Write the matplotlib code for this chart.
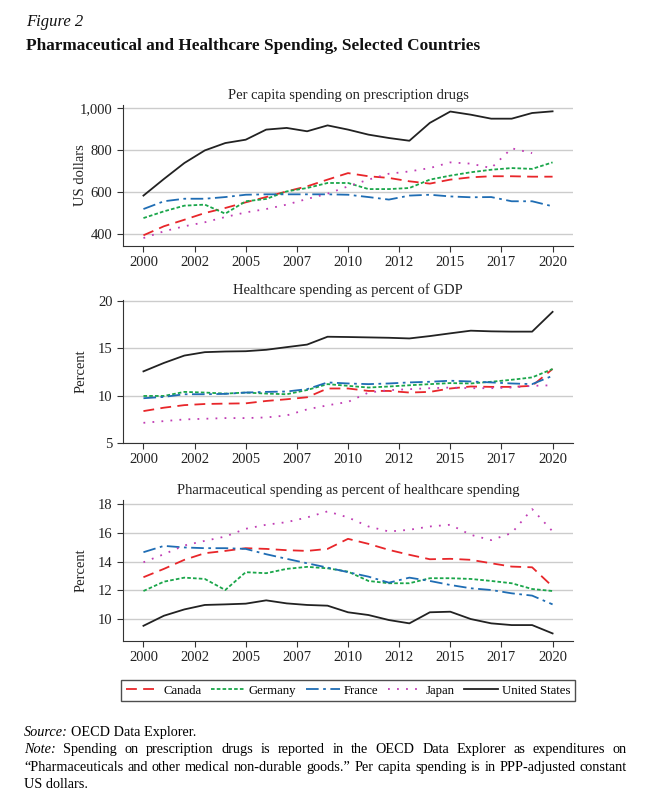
import matplotlib
matplotlib.use("Agg")
import matplotlib.pyplot as plt

years = list(range(2000, 2021))

# Per capita spending on prescription drugs (US dollars)
drugs_canada = [394, 437, 468, 500, 524, 551, 576, 603, 627, 659, 690, 675, 667, 651, 640, 659, 670, 675, 675, 673, 673]
drugs_germany = [476, 508, 535, 540, 497, 556, 567, 603, 619, 643, 643, 614, 614, 619, 659, 678, 694, 706, 714, 710, 741]
drugs_france = [519, 556, 568, 568, 576, 587, 589, 589, 589, 589, 587, 576, 564, 583, 587, 579, 575, 576, 556, 556, 532]
drugs_japan = [381, 413, 437, 456, 481, 503, 519, 540, 567, 592, 627, 659, 687, 698, 714, 741, 735, 714, 808, 785, None]
drugs_us = [583, 662, 738, 798, 833, 849, 897, 905, 889, 917, 897, 873, 857, 844, 929, 983, 968, 949, 949, 976, 984]

# Healthcare spending as percent of GDP
gdp_canada = [8.37, 8.73, 9.0, 9.12, 9.16, 9.19, 9.44, 9.62, 9.83, 10.76, 10.76, 10.5, 10.5, 10.33, 10.4, 10.76, 10.97, 10.93, 10.93, 11.04, 12.82]
gdp_germany = [9.97, 9.97, 10.4, 10.33, 10.22, 10.33, 10.22, 10.15, 10.6, 11.22, 11.04, 10.86, 10.97, 11.1, 11.22, 11.33, 11.29, 11.47, 11.68, 11.93, 12.82]
gdp_france = [9.73, 9.87, 10.15, 10.15, 10.19, 10.33, 10.4, 10.44, 10.69, 11.4, 11.29, 11.22, 11.29, 11.4, 11.47, 11.58, 11.5, 11.4, 11.29, 11.22, 12.1]
gdp_japan = [7.13, 7.31, 7.49, 7.56, 7.63, 7.63, 7.7, 7.91, 8.55, 8.98, 9.34, 10.33, 10.58, 10.69, 10.79, 10.86, 10.79, 10.79, 10.86, 11.04, 11.1]
gdp_us = [12.57, 13.46, 14.24, 14.6, 14.67, 14.7, 14.85, 15.13, 15.4, 16.23, 16.2, 16.16, 16.12, 16.05, 16.3, 16.59, 16.87, 16.8, 16.77, 16.77, 18.86]

# Pharmaceutical spending as percent of healthcare spending
share_canada = [12.91, 13.49, 14.12, 14.58, 14.74, 14.93, 14.88, 14.79, 14.74, 14.88, 15.58, 15.23, 14.81, 14.47, 14.16, 14.19, 14.12, 13.88, 13.65, 13.6, 12.26]
share_germany = [11.95, 12.6, 12.88, 12.79, 12.02, 13.26, 13.19, 13.49, 13.63, 13.53, 13.3, 12.65, 12.49, 12.49, 12.84, 12.84, 12.79, 12.65, 12.49, 12.09, 11.95]
share_france = [14.65, 15.09, 14.98, 14.93, 14.93, 14.88, 14.51, 14.19, 13.88, 13.58, 13.26, 12.95, 12.53, 12.88, 12.65, 12.37, 12.14, 12.02, 11.79, 11.63, 11.02]
share_japan = [13.95, 14.51, 15.12, 15.44, 15.74, 16.28, 16.56, 16.74, 17.07, 17.49, 17.07, 16.44, 16.09, 16.21, 16.44, 16.56, 15.86, 15.49, 15.98, 17.65, 16.1]
share_us = [9.53, 10.23, 10.67, 10.98, 11.02, 11.07, 11.3, 11.09, 10.98, 10.93, 10.47, 10.28, 9.93, 9.7, 10.47, 10.51, 10.0, 9.7, 9.58, 9.58, 9.0]

countries = ["Canada", "Germany", "France", "Japan", "United States"]
tick_pos = [2000, 2002.5, 2005, 2007.5, 2010, 2012.5, 2015, 2017.5, 2020]
tick_labels = ["2000", "2002", "2005", "2007", "2010", "2012", "2015", "2017", "2020"]

styles = {
    "Canada": dict(color="#e8262a", linestyle=(0, (6, 3.5))),
    "Germany": dict(color="#1aa64a", linestyle=(0, (2, 1.2))),
    "France": dict(color="#1f6db4", linestyle=(0, (7, 2.5, 1.5, 2.5))),
    "Japan": dict(color="#c03cb4", linestyle=(0, (1, 4))),
    "United States": dict(color="#222222", linestyle="-"),
}

serif = "Liberation Serif"
plt.rcParams["font.family"] = serif
plt.rcParams["font.size"] = 10

fig = plt.figure(figsize=(6.57, 7.98), dpi=100)

panels = [
    ([0.1872, 0.6917, 0.685, 0.1767], "Per capita spending on prescription drugs", "US dollars",
     [drugs_canada, drugs_germany, drugs_france, drugs_japan, drugs_us],
     (343, 1014), [400, 600, 800, 1000], ["400", "600", "800", "1,000"]),
    ([0.1872, 0.4449, 0.685, 0.179], "Healthcare spending as percent of GDP", "Percent",
     [gdp_canada, gdp_germany, gdp_france, gdp_japan, gdp_us],
     (5, 20.1), [5, 10, 15, 20], ["5", "10", "15", "20"]),
    ([0.1872, 0.1967, 0.685, 0.1767], "Pharmaceutical spending as percent of healthcare spending", "Percent",
     [share_canada, share_germany, share_france, share_japan, share_us],
     (8.47, 18.28), [10, 12, 14, 16, 18], ["10", "12", "14", "16", "18"]),
]

for rect, title, ylabel, series, ylim, yticks, ylabels in panels:
    ax = fig.add_axes(rect)
    for name, vals in zip(countries, series):
        xs = [y for y, v in zip(years, vals) if v is not None]
        vs = [v for v in vals if v is not None]
        ax.plot(xs, vs, linewidth=1.3, label=name, **styles[name])
    ax.set_xlim(1999, 2021)
    ax.set_ylim(*ylim)
    ax.set_xticks(tick_pos)
    ax.set_xticklabels(tick_labels)
    ax.set_yticks(yticks)
    ax.set_yticklabels(ylabels)
    ax.grid(axis="y", color="#cccccc", linewidth=1)
    ax.set_axisbelow(True)
    for side in ["top", "right"]:
        ax.spines[side].set_visible(False)
    ax.spines["left"].set_color("#333333")
    ax.spines["bottom"].set_color("#333333")
    ax.tick_params(length=4, color="#333333", labelsize=10.5, labelcolor="#222222")
    ax.set_title(title, fontsize=10.5, color="#222222", pad=4.5)
    ax.set_ylabel(ylabel, fontsize=10.5, color="#222222")
    ax.yaxis.set_label_coords(-0.079, 0.5)

handles, labels = ax.get_legend_handles_labels()
fig.legend(handles, labels, loc="center", bbox_to_anchor=(0.5295, 0.1345), ncol=5,
           frameon=True, fancybox=False, edgecolor="#222222", fontsize=9.2,
           handlelength=2.65, columnspacing=0.75, handletextpad=0.3, borderpad=0.35)

fig.text(0.0396, 0.972, "Figure 2", fontsize=12, style="italic", va="center", color="#111111")
fig.text(0.0396, 0.942, "Pharmaceutical and Healthcare Spending, Selected Countries",
         fontsize=12.4, weight="bold", va="center", color="#111111")

# footnotes
note_size = 10.3
x_left, x_right = 24 / 657, 627 / 657
fig.text(x_left, 0.0815, "Source:", fontsize=note_size, style="italic", va="center")
fig.text(71 / 657, 0.0815, "OECD Data Explorer.", fontsize=note_size, va="center")

fig.canvas.draw()
renderer = fig.canvas.get_renderer()
fig_w = fig.bbox.width


def justified(words, x0, y, italic_first=False):
    items = []
    for i, w in enumerate(words):
        st = "italic" if (italic_first and i == 0) else "normal"
        t = fig.text(x0, y, w, fontsize=note_size, style=st, va="center")
        items.append(t)
    widths = [t.get_window_extent(renderer).width / fig_w for t in items]
    gap = (x_right - x0 - sum(widths)) / (len(items) - 1)
    x = x0
    for t, w in zip(items, widths):
        t.set_x(x)
        x += w + gap


justified(["Note:", "Spending", "on", "prescription", "drugs", "is", "reported", "in", "the", "OECD",
           "Data", "Explorer", "as", "expenditures", "on"], x_left, 0.0602, italic_first=True)
justified(["\u201cPharmaceuticals", "and", "other", "medical", "non-durable", "goods.\u201d", "Per",
           "capita", "spending", "is", "in", "PPP-adjusted", "constant"], x_left, 0.0388)
fig.text(x_left, 0.0175, "US dollars.", fontsize=note_size, va="center")

fig.savefig("out.png", dpi=100)
